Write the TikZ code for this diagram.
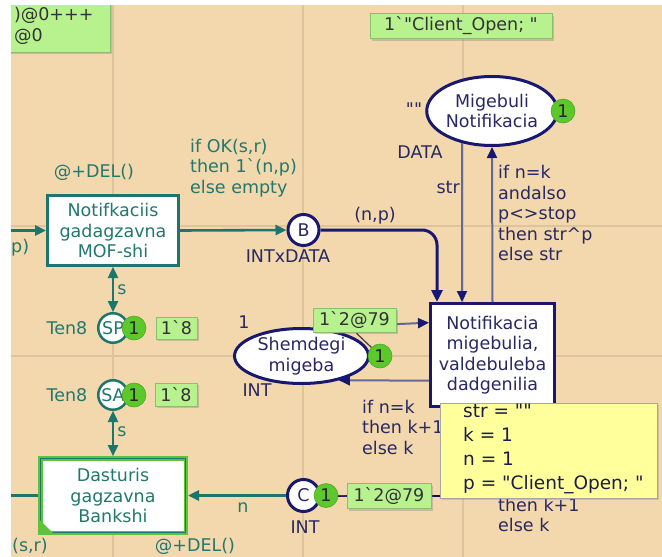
\documentclass[tikz,border=0pt]{standalone}
\usepackage{fontspec}
\newfontfamily\cpnfont{DejaVu Sans}
\usetikzlibrary{arrows.meta,shapes.geometric,shadows}
\definecolor{bg}{RGB}{242,216,172}
\definecolor{gridc}{RGB}{222,196,156}
\definecolor{tealc}{RGB}{28,118,108}
\definecolor{tealt}{RGB}{34,120,110}
\definecolor{navyc}{RGB}{24,24,112}
\definecolor{navyt}{RGB}{40,40,100}
\definecolor{arcg}{RGB}{104,104,150}
\definecolor{tokg}{RGB}{92,200,44}
\definecolor{markg}{RGB}{184,242,142}
\definecolor{markb}{RGB}{140,190,110}
\definecolor{yel}{RGB}{255,255,156}
\definecolor{enab}{RGB}{92,196,60}
\begin{document}
\begin{tikzpicture}[x=1pt,y=-1pt,
  txt/.style={font=\cpnfont\fontsize{17.5}{20.5}\selectfont, inner sep=0pt},
  ttxt/.style={txt, text=tealt},
  ntxt/.style={txt, text=navyt},
  ttrans/.style={rectangle, draw=tealc, line width=3pt, fill=white, txt, text=tealt, align=center},
  ntrans/.style={rectangle, draw=navyc, line width=3pt, fill=white, txt, text=navyt, align=center},
  nplace/.style={ellipse, draw=navyc, line width=3pt, fill=white, ntxt, align=center},
  ncirc/.style={circle, draw=navyc, line width=3pt, fill=white, ntxt},
  tcirc/.style={circle, draw=tealc, line width=2.5pt, fill=white, ttxt},
  token/.style={circle, fill=tokg, draw=tokg!80!black, line width=0.5pt, minimum size=24pt, txt, text=black!85},
  markbox/.style={rectangle, fill=markg, draw=markb, line width=0.6pt, txt, text=black!80,
     drop shadow={shadow xshift=2pt, shadow yshift=-2pt, opacity=0.35}},
  tarc/.style={draw=tealc, line width=2.6pt, -{Triangle[length=11pt,width=10pt]}},
  tline/.style={draw=tealc, line width=2.6pt},
  tbi/.style={draw=tealc, line width=2.4pt, {Triangle[length=11pt,width=10pt]}-{Triangle[length=11pt,width=10pt]}},
  narc/.style={draw=navyc, line width=3pt, -{Triangle[length=12pt,width=11pt]}},
  garc/.style={draw=arcg, line width=2pt, -{Triangle[length=11pt,width=10pt,color=navyc]}},
  karc/.style={draw=navyc!70!black, line width=2pt, -{Triangle[length=11pt,width=10pt]}},
  link/.style={draw=black!75, line width=1.2pt},
  gridl/.style={draw=gridc, line width=1.4pt}
]
\useasboundingbox (0,0) rectangle (662,557);
\clip (0,0) rectangle (662,557);
\fill[bg] (0,0) rectangle (662,557);
% grid
\draw[gridl] (113,0) -- (113,557);
\draw[gridl] (303,0) -- (303,557);
\draw[gridl] (463,0) -- (463,557);
\draw[gridl] (0,226) -- (662,226);
\draw[gridl] (0,356) -- (662,356);

% transitions and places
\node[ttrans, minimum width=131pt, minimum height=70pt] (T1) at (113,230.5) {Notifkaciis\\gadagzavna\\MOF-shi};
\node[ttrans, draw=enab, line width=4.5pt, minimum width=145.5pt, minimum height=74.5pt] (T2) at (113,495.5) {Dasturis\\gagzavna\\Bankshi};
\draw[tealc, line width=1pt] ([shift={(2.5,2.5)}]T2.north west) rectangle ([shift={(-2.5,-2.5)}]T2.south east);
\fill[enab] ([shift={(2,-2)}]T2.south west) -- ([shift={(15,-2)}]T2.south west) -- ([shift={(2,-15)}]T2.south west) -- cycle;
\node[ntrans, minimum width=124pt, minimum height=103pt] (T3) at (492.5,355) {Notifikacia\\migebulia,\\valdebuleba\\dadgenilia};
\node[nplace, minimum width=124pt, minimum height=69pt] (Mig) at (492,111) {Migebuli\\Notifikacia};
\node[nplace, minimum width=134pt, minimum height=55pt] (Shem) at (301.5,356) {Shemdegi\\migeba};
\node[ncirc, minimum size=31pt] (B) at (303.5,230) {B};
\node[ncirc, minimum size=32pt] (C) at (303.5,495.5) {C};
\node[tcirc, minimum size=29.5pt] (SP) at (113,328) {SP};
\node[tcirc, minimum size=29.5pt] (SA) at (113,395) {SA};

% free ends at the window edge
\coordinate (lft1) at (0,230.5);
\coordinate (lft2) at (0,495.5);

% arcs
\draw[tarc] (lft1) -- (T1.west);
\draw[tarc] (T1.east) -- (B.west);
\draw[narc, rounded corners=15pt] (B.east) -| ([xshift=8pt]T3.north west);
\draw[garc] (Mig.227) -- (Mig.227 |- T3.north);
\draw[garc] (T3.north) -- (Mig.south);
\draw[garc] (Shem.60) -- (T3.153);
\draw[garc] (T3.202) -- (Shem.-33);
\draw[karc] (T3.south) |- (C.east);
\draw[tarc] (C.west) -- (T2.east);
\draw[tline] (T2.west) -- (lft2);
\draw[tbi] (SP.north) -- (T1.south);
\draw[tbi] (SA.south) -- (T2.north);

% tokens
\node[token] (tMig) at (563,111) {1};
\node[token] (tShem) at (380,356) {1};
\node[token] (tC) at (326,495.5) {1};
\node[token] (tSP) at (134,328) {1};
\node[token] (tSA) at (134,395) {1};

% marking boxes
\node[markbox, minimum width=106pt, minimum height=52pt, text width=86pt, align=left] (M1) at (57,26) {)@0+++\\@0};
\node[markbox, minimum width=182pt, minimum height=25pt] (M2) at (461,26) {1`"Client\_Open; "};
\node[markbox, minimum width=83pt, minimum height=24pt] (M3) at (354.5,320) {1`2@79};
\node[markbox, minimum width=84pt, minimum height=25pt] (M4) at (389,496) {1`2@79};
\node[markbox, minimum width=41pt, minimum height=22pt] (M5) at (176.5,328) {1`8};
\node[markbox, minimum width=42pt, minimum height=23pt] (M6) at (176,394.5) {1`8};
\draw[link] (M3.south) ++(2,1) -- (tShem.north west);
\draw[link] (tC.east) -- (M4.west);

% inscriptions and labels
\node[ttxt] (lDEL1) at (94,172) {@+DEL()};
\node[ttxt, anchor=west, align=left] (lOK) at (190,168) {if OK(s,r)\\then 1`(n,p)\\else empty};
\node[ttxt, anchor=west] (lp) at (11,248) {p)};
\node[ntxt] (lnp) at (375,216) {(n,p)};
\node[ntxt] (lIxD) at (288,256) {INTxDATA};
\node[ntxt] (lDATA) at (420,152) {DATA};
\node[ntxt, anchor=base] (lMigI) at (414,115) {""};
\node[ntxt, anchor=east] (lstr) at (460,187) {str};
\node[ntxt, anchor=west, align=left] (lif1) at (498,213) {if n=k\\andalso\\p<>stop\\then str\textasciicircum p\\else str};
\node[ntxt] (lShemI) at (244,322) {1};
\node[ntxt] (lShemT) at (257,390) {INT};
\node[ntxt, anchor=west, align=left] (lif2) at (362,427) {if n=k\\then k+1\\else k};
\node[ntxt, anchor=west, align=left] (lif3) at (498,515) {then k+1\\else k};
\node[ntxt] (lCT) at (305,527) {INT};
\node[ttxt] (ln) at (243,508) {n};
\node[ttxt] (ls1) at (122,290) {s};
\node[ttxt] (ls2) at (122,432) {s};
\node[ttxt] (lTen1) at (67,328) {Ten8};
\node[ttxt] (lTen2) at (67,395) {Ten8};
\node[ttxt, anchor=west] (lsr) at (12,546) {(s,r)};
\node[ttxt] (lDEL2) at (195,546) {@+DEL()};

% yellow binding box
\node[rectangle, fill=yel, draw=black!35, line width=0.6pt, minimum width=217pt, minimum height=95pt,
   drop shadow={shadow xshift=2pt, shadow yshift=-2pt, opacity=0.3}] (yb) at (548.5,450.5) {};
\node[txt, font=\cpnfont\fontsize{18.5}{24}\selectfont, text=navyt!70!black, anchor=west, align=left] (ybt) at (463,449) {str = ""\\k = 1\\n = 1\\p = "Client\_Open; "};

% window edges
\fill[white] (0,0) rectangle (662,5);
\fill[white] (0,0) rectangle (11,557);
\end{tikzpicture}
\end{document}
